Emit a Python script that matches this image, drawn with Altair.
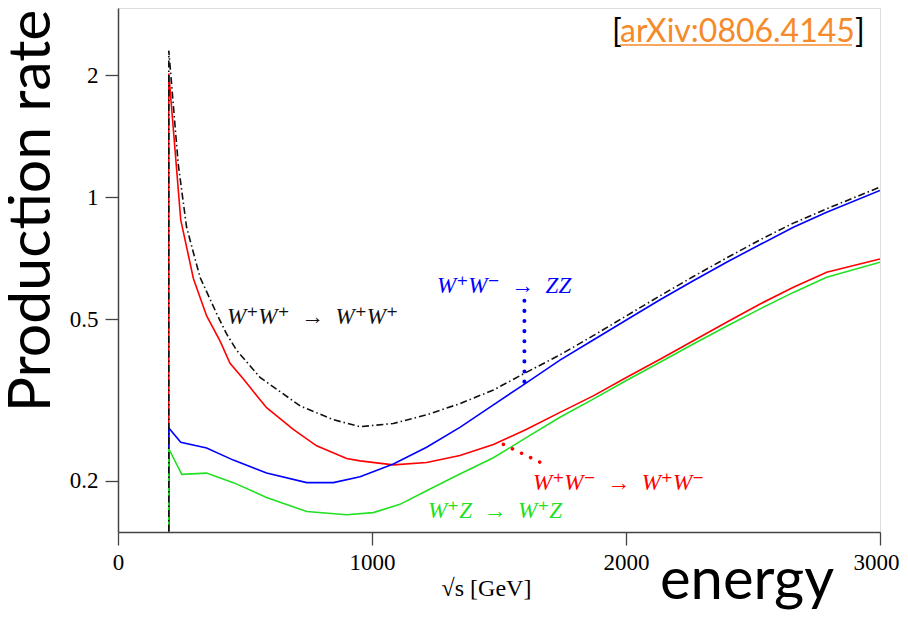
import altair as alt
import pandas as pd

# ---- data ----
red_x = [200, 200, 247, 297, 349, 402, 441, 493, 552, 585, 690, 782, 900, 953, 1084, 1215, 1346, 1478, 1609, 1740,
         1871, 2003, 2134, 2265, 2396, 2528, 2659, 2790, 3000]
red_y = [0.15, 2.02, 0.88, 0.63, 0.51, 0.442, 0.39, 0.357, 0.321, 0.303, 0.268, 0.244, 0.227, 0.224, 0.219, 0.222,
         0.231, 0.246, 0.268, 0.295, 0.324, 0.360, 0.399, 0.443, 0.492, 0.546, 0.600, 0.654, 0.705]

black_x = [200, 200, 237, 270, 323, 389, 428, 467, 559, 717, 848, 953, 1084, 1215, 1346, 1478, 1596, 1740, 1871,
           2003, 2134, 2265, 2396, 2528, 2659, 2790, 3000]
black_y = [0.15, 2.3, 1.21, 0.844, 0.635, 0.516, 0.46, 0.42, 0.36, 0.306, 0.283, 0.272, 0.277, 0.291, 0.310, 0.335,
           0.367, 0.409, 0.456, 0.511, 0.572, 0.638, 0.709, 0.786, 0.864, 0.937, 1.06]

blue_x = [200, 200, 247, 349, 454, 585, 743, 848, 953, 1084, 1215, 1346, 1478, 1596, 1740, 1871, 2003, 2134, 2265,
          2396, 2528, 2659, 2790, 3000]
blue_y = [0.15, 0.27, 0.249, 0.241, 0.225, 0.209, 0.198, 0.198, 0.2046, 0.220, 0.242, 0.271, 0.308, 0.345, 0.397,
          0.445, 0.499, 0.559, 0.623, 0.692, 0.765, 0.844, 0.919, 1.04]

green_x = [200, 200, 251, 349, 454, 585, 743, 900, 1005, 1110, 1215, 1346, 1478, 1609, 1740, 1871, 2003, 2134, 2265,
           2396, 2528, 2659, 2790, 3000]
green_y = [0.15, 0.240, 0.2075, 0.209, 0.198, 0.182, 0.168, 0.165, 0.167, 0.175, 0.189, 0.208, 0.228, 0.256, 0.287,
           0.318, 0.354, 0.392, 0.435, 0.481, 0.531, 0.583, 0.635, 0.692]

x_ticks = [0, 1000, 2000, 3000]
y_ticks = [0.2, 0.5, 1, 2]

labels = ["W⁺W⁺\u2002→\u2002W⁺W⁺", "W⁺W⁻\u2002→\u2002ZZ", "W⁺W⁻\u2002→\u2002W⁺W⁻", "W⁺Z\u2002→\u2002W⁺Z"]
label_x = [429, 1256, 1634, 1220]
label_y = [0.488, 0.582, 0.190, 0.162]

blue_ptr_x = [1600, 1600]
blue_ptr_y = [0.556, 0.345]
red_ptr_x = [1517, 1670]
red_ptr_y = [0.246, 0.221]

SERIF = "Liberation Serif, DejaVu Serif, serif"
SANS = "Lato, Noto Sans, sans-serif"

X = alt.X("energy:Q",
          scale=alt.Scale(domain=[0, 3000], nice=False, zero=False),
          axis=alt.Axis(values=x_ticks, format="d", title="√s [GeV]", grid=False,
                        tickSize=13, tickColor="#444", tickWidth=1.3, labelFlush=False,
                        labelAlign={"condition": {"test": "datum.value >= 3000", "value": "right"},
                                    "value": "center"},
                        labelOffset={"condition": {"test": "datum.value >= 3000", "value": 19},
                                     "value": 0},
                        labelFont=SERIF, labelFontSize=23, labelColor="black",
                        labelPadding=6, domainColor="#444", domainWidth=1.5,
                        titleFont=SERIF, titleFontSize=24, titleFontWeight="normal",
                        titleColor="black", titleX=368, titleY=63,
                        titleAlign="center", titleBaseline="alphabetic"))
Y = alt.Y("rate:Q",
          scale=alt.Scale(type="log", domain=[0.1496, 2.93], nice=False),
          axis=alt.Axis(values=y_ticks, format="~g", title=None, grid=False,
                        tickSize=13, tickColor="#444", tickWidth=1.3, labelFlush=False,
                        labelFont=SERIF, labelFontSize=23, labelColor="black",
                        labelPadding=7, domainColor="#444", domainWidth=1.5))


def df(xs, ys):
    return pd.DataFrame({"energy": xs, "rate": ys, "idx": list(range(len(xs)))})


def curve(xs, ys, color, dash=None):
    kw = dict(color=color, strokeWidth=1.6, clip=True, interpolate="linear")
    if dash:
        kw["strokeDash"] = dash
    return alt.Chart(df(xs, ys)).mark_line(**kw).encode(x=X, y=Y, order=alt.Order("idx:Q"))


red = curve(red_x, red_y, "#FF0000")
blue = curve(blue_x, blue_y, "#0000FF")
green = curve(green_x, green_y, "#22E022")
black = curve(black_x, black_y, "#111111", dash=[7, 3, 1.5, 3])

blue_ptr = alt.Chart(df(blue_ptr_x, blue_ptr_y)).mark_line(
    color="#0000FF", strokeWidth=4, strokeDash=[0.1, 10], strokeCap="round").encode(x=X, y=Y)
red_ptr = alt.Chart(df(red_ptr_x, red_ptr_y)).mark_line(
    color="#FF0000", strokeWidth=3.5, strokeDash=[0.1, 10], strokeCap="round").encode(x=X, y=Y)

label_colors = ["#111111", "#0000FF", "#FF0000", "#22E022"]
text_layers = []
for t, lx, ly, c in zip(labels, label_x, label_y, label_colors):
    text_layers.append(
        alt.Chart(pd.DataFrame({"energy": [lx], "rate": [ly], "t": [t]})).mark_text(
            font=SERIF, fontSize=23, fontStyle="italic", color=c,
            align="left", baseline="alphabetic").encode(x=X, y=Y, text="t:N"))


def free_text(s, x, y, **kw):
    return alt.Chart(pd.DataFrame({"t": [s]})).mark_text(**kw).encode(
        x=alt.value(x), y=alt.value(y), text="t:N")


prod = free_text("Production rate", -68, 203, font=SANS, fontSize=59, angle=270,
                 align="center", baseline="alphabetic", color="black")
energy = free_text("energy", 542, 591, font=SANS, fontSize=58,
                   align="left", baseline="alphabetic", color="black")
lb = free_text("[", 494, 34, font=SANS, fontSize=32, align="left", baseline="alphabetic", color="black")
arx = free_text("arXiv:0806.4145", 502, 34, font=SANS, fontSize=32, align="left",
                baseline="alphabetic", color="#F58A2A")
rb = free_text("]", 737, 34, font=SANS, fontSize=32, align="left", baseline="alphabetic", color="black")
uline = alt.Chart(pd.DataFrame({"a": [0]})).mark_rule(color="#F58A2A", strokeWidth=1.5).encode(
    x=alt.value(502), x2=alt.value(734), y=alt.value(37))

chart = alt.layer(red, blue, green, black, blue_ptr, red_ptr, *text_layers,
                  prod, energy, lb, arx, rb, uline).properties(
    width=762, height=524,
    autosize=alt.AutoSizeParams(type="none"),
    padding={"left": 110, "top": 0, "right": 20, "bottom": 80},
).configure_view(stroke="#444", strokeWidth=1.5).configure(background="white")

chart.save("out.html", embed_options={"renderer": "svg", "actions": False})
